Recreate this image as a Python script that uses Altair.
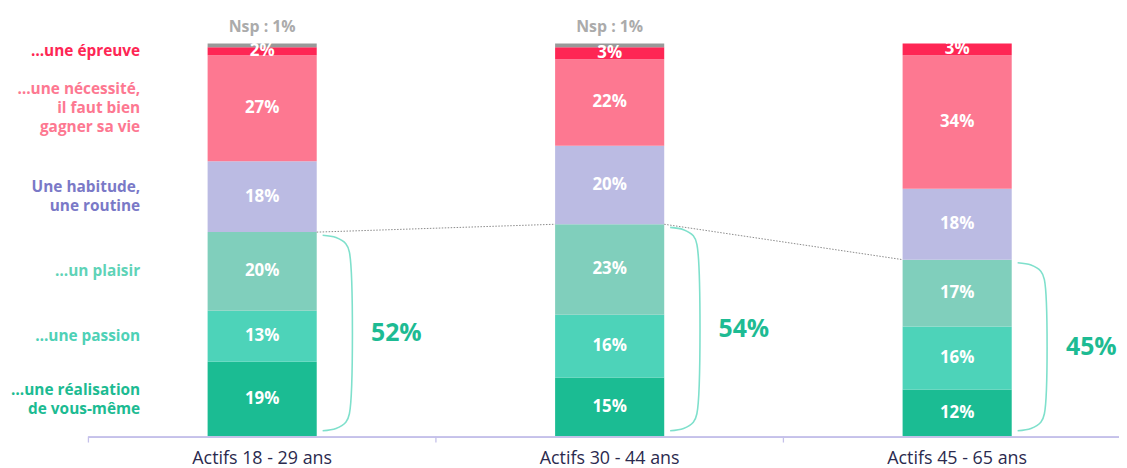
import altair as alt
import pandas as pd

# ---------------- data ----------------
groups = ["Actifs 18 - 29 ans", "Actifs 30 - 44 ans", "Actifs 45 - 65 ans"]
categories = ["réalisation", "passion", "plaisir", "habitude", "nécessité", "épreuve", "Nsp"]
vals_18_29 = [19, 13, 20, 18, 27, 2, 1]
vals_30_44 = [15, 16, 23, 20, 22, 3, 1]
vals_45_65 = [12, 16, 17, 18, 34, 3, 0]
positive_totals = [52, 54, 45]
nsp_labels = ["Nsp : 1%", "Nsp : 1%", ""]
left_labels = [
    "…une réalisation\nde vous-même",
    "…une passion",
    "…un plaisir",
    "Une habitude,\nune routine",
    "…une nécessité,\nil faut bien\ngagner sa vie",
    "…une épreuve",
]
bar_colors = ["#1BBC93", "#4DD3B9", "#80CFBC", "#BBBBE3", "#FD7891", "#FE2654", "#999999"]
label_colors = ["#1CBB92", "#4ED1B6", "#5FD3B7", "#7A79C7", "#FD7891", "#FE2654"]

all_vals = [vals_18_29, vals_30_44, vals_45_65]

# ---------------- layout constants ----------------
W, H = 1038, 396
PX = 350.0           # pixels per group slot
HALF = 0.157         # half bar width (in slot units)
FONT = "Open Sans"
LINE_H = 19
AXIS_COLOR = "#C5C1EA"

xscale = alt.Scale(domain=[0, W / PX], nice=False, zero=False)
yscale = alt.Scale(domain=[0, 100], nice=False, zero=False)

# ---------------- frames ----------------
rows = []
for gi, g in enumerate(groups):
    cum = 0
    for ci, (cat, v) in enumerate(zip(categories, all_vals[gi])):
        if v > 0:
            rows.append(dict(group=g, cat=cat, start=cum, end=cum + v, mid=cum + v / 2,
                             x0=gi + 0.5 - HALF, x1=gi + 0.5 + HALF, xc=gi + 0.5,
                             label=f"{v}%" if cat != "Nsp" else ""))
        cum += v
bars_df = pd.DataFrame(rows)

# left labels aligned with first bar segments
left_rows = []
cum = 0
for ci, v in enumerate(vals_18_29[:6]):
    n_lines = left_labels[ci].count("\n") + 1
    left_rows.append(dict(x=0.149, y=cum + v / 2, text=left_labels[ci], color=label_colors[ci],
                          n=n_lines))
    cum += v
left_df = pd.DataFrame(left_rows)

nsp_df = pd.DataFrame([dict(xc=gi + 0.5, y=100, text=t) for gi, t in enumerate(nsp_labels) if t])

cat_df = pd.DataFrame([dict(xc=gi + 0.5, text=g) for gi, g in enumerate(groups)])

tick_df = pd.DataFrame({"x": [0, 1, 2, 3]})

# brackets
br_rows = []
ox = [0.174, 0.2125, 0.2407, 0.251]
oy = [0.0, 0.576, 2.15, 4.3]
for gi, tot in enumerate(positive_totals):
    c = gi + 0.5
    top = tot - 0.8
    bot = 1.5
    pts = [(ox[k], top - oy[k]) for k in range(4)] + [(ox[k], bot + oy[k]) for k in reversed(range(4))]
    for k, (dx, yy) in enumerate(pts):
        br_rows.append(dict(group=groups[gi], idx=k, x=c + dx, y=yy))
br_df = pd.DataFrame(br_rows)

pct_df = pd.DataFrame([dict(x=gi + 0.5 + 0.386, y=(tot - 0.8 + 1.5) / 2, text=f"{tot}%")
                       for gi, tot in enumerate(positive_totals)])

conn_df = pd.DataFrame([dict(x=i + 0.5 + HALF, y=positive_totals[i],
                             x2=i + 1.5 - HALF, y2=positive_totals[i + 1]) for i in range(2)])

# ---------------- layers ----------------
X = lambda f: alt.X(f, scale=xscale, axis=None)
Y = lambda f: alt.Y(f, scale=yscale, axis=None)

bars = alt.Chart(bars_df).mark_bar(stroke=None).encode(
    x=X("x0:Q"),
    x2="x1:Q",
    y=Y("start:Q"),
    y2="end:Q",
    color=alt.Color("cat:N", scale=alt.Scale(domain=categories, range=bar_colors), legend=None),
)

bar_text = alt.Chart(bars_df).mark_text(color="white", font=FONT, fontWeight="bold",
                                        fontSize=17, baseline="middle").encode(
    x=X("xc:Q"), y=Y("mid:Q"), text="label:N",
)

nsp_text = alt.Chart(nsp_df).mark_text(color="#ABABAB", font=FONT, fontWeight="bold",
                                       fontSize=16, baseline="middle", dy=-16).encode(
    x=X("xc:Q"), y=Y("y:Q"), text="text:N",
)

left_layers = []
for n in (1, 2, 3):
    left_layers.append(
        alt.Chart(left_df).transform_filter(alt.datum.n == n).mark_text(
            align="right", baseline="middle", font=FONT, fontWeight="bold", fontSize=15.5,
            lineBreak="\n", lineHeight=LINE_H, dy=-(n - 1) * LINE_H / 2,
        ).encode(
            x=X("x:Q"), y=Y("y:Q"), text="text:N",
            color=alt.Color("color:N", scale=None),
        )
    )

brackets = alt.Chart(br_df).mark_line(color="#7FE0CC", strokeWidth=1.6,
                                      interpolate="catmull-rom").encode(
    x=X("x:Q"), y=Y("y:Q"), detail="group:N", order="idx:Q",
)

pct_text = alt.Chart(pct_df).mark_text(color="#1DBB93", font=FONT, fontWeight="bold",
                                       fontSize=25, baseline="middle").encode(
    x=X("x:Q"), y=Y("y:Q"), text="text:N",
)

connectors = alt.Chart(conn_df).mark_rule(color="#8A8A8A", strokeWidth=1,
                                          strokeDash=[1.5, 1.5]).encode(
    x=X("x:Q"), y=Y("y:Q"), x2="x2:Q", y2="y2:Q",
)

baseline = alt.Chart(tick_df).mark_rule(color=AXIS_COLOR, strokeWidth=1.3).encode(
    x=alt.value(0), x2=alt.value(W), y=alt.value(H + 0.5),
)

ticks = alt.Chart(tick_df).mark_rule(color=AXIS_COLOR, strokeWidth=1.3).encode(
    x=X("x:Q"), y=alt.value(H), y2=alt.value(H + 6),
)

cat_text = alt.Chart(cat_df).mark_text(color="#2B2A4E", font=FONT, fontSize=18,
                                       baseline="middle").encode(
    x=X("xc:Q"), y=alt.value(H + 23), text="text:N",
)

chart = alt.layer(
    bars, bar_text, nsp_text, *left_layers, brackets, pct_text, connectors,
    baseline, ticks, cat_text
).properties(
    width=W, height=H,
    padding={"left": 81, "top": 34, "right": 0, "bottom": 30},
    autosize=alt.AutoSizeParams(type="none"),
    background="white",
).configure_view(stroke=None)

chart.save("out.html", embed_options={"renderer": "svg", "actions": False})
